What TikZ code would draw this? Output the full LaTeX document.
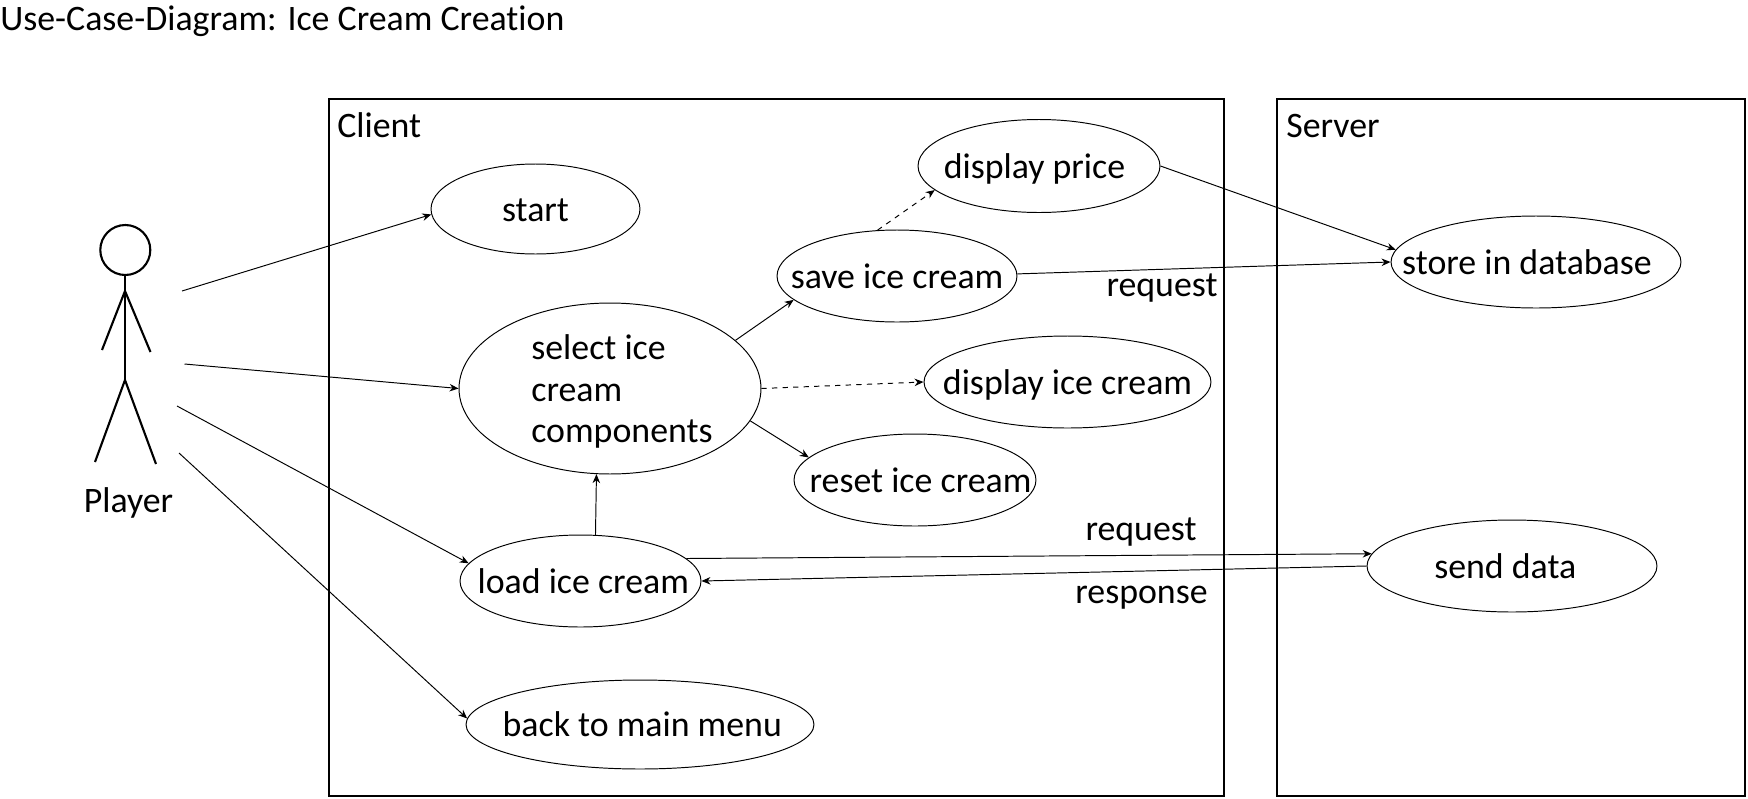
\documentclass[tikz,border=0pt]{standalone}
\usepackage{fontspec}
\setmainfont[Ligatures=NoCommon]{Carlito}
\usetikzlibrary{arrows.meta, positioning, shapes}
\tikzset{
  usecase/.style={draw, ellipse, line width=0.55pt, inner sep=-22pt, text height=0.64cm, text depth=0.16cm},
  frame/.style={draw, line width=1.3pt},
  limb/.style={line width=1.2pt},
  flow/.style={line width=0.55pt, -{Stealth[length=1.8mm,width=1.5mm]}},
  flowdash/.style={flow, dashed},
  caption/.style={anchor=base, inner sep=0pt}
}

\begin{document}
\begin{tikzpicture}[x=0.02cm, y=-0.02cm, every node/.append style={font=\fontsize{20.4}{24}\selectfont}]
\useasboundingbox (0,0) rectangle (1748,798);

% Title
\node[caption, anchor=base west] (title) at (0,30) {Use-Case-Diagram: Ice Cream Creation};

% Boxes
\draw[frame] (329,99) rectangle (1224,796);
\draw[frame] (1277,99) rectangle (1745,796);
\node[caption, anchor=base west] (client) at (337,137) {Client};
\node[caption, anchor=base west] (server) at (1286,137) {Server};

% Player
\draw[limb] (125.3,250) circle (25);
\draw[limb] (125,275) -- (125,380);
\draw[limb] (125,291) -- (102,350);
\draw[limb] (125,291) -- (150.5,352);
\draw[limb] (125,380) -- (95,462);
\draw[limb] (125,380) -- (156,464);
\node[caption] (player) at (128.5,512) {Player};
\coordinate (p1) at (182,291);
\coordinate (p2) at (184.5,364);
\coordinate (p3) at (177,406);
\coordinate (p4) at (179,453);

% Client use cases
\node[usecase, minimum width=4.18cm, minimum height=1.8cm] (start) at (535.5,209) {start};
\node[usecase, minimum width=6.04cm, minimum height=3.42cm, align=left, text height=2.38cm, text depth=0.2cm, font=\fontsize{20.4}{23.9}\selectfont] (select) at (610,388.5) {\hspace*{0.48cm}select ice\\\hspace*{0.48cm}cream\\\hspace*{0.48cm}components};
\node[usecase, minimum width=4.8cm, minimum height=1.84cm] (save) at (897,276) {save ice cream};
\node[usecase, minimum width=4.84cm, minimum height=1.86cm] (price) at (1039,166) {display price\hspace*{0.18cm}};
\node[usecase, minimum width=5.74cm, minimum height=1.84cm] (display) at (1067.5,382) {display ice cream};
\node[usecase, minimum width=4.84cm, minimum height=1.84cm] (reset) at (915,480) {\hspace*{0.22cm}reset ice cream};
\node[usecase, minimum width=4.82cm, minimum height=1.84cm] (load) at (580.5,581) {\hspace*{0.11cm}load ice cream};
\node[usecase, minimum width=6.96cm, minimum height=1.78cm] (back) at (640,724.5) {\hspace*{0.09cm}back to main menu};

% Server use cases
\node[usecase, minimum width=5.8cm, minimum height=1.84cm] (store) at (1536,262) {store in database\hspace*{0.36cm}};
\node[usecase, minimum width=5.8cm, minimum height=1.84cm] (send) at (1512,566) {send data\hspace*{0.27cm}};

% Connectors
\draw[flow] (p1) -- (start.183.3);
\draw[flow] (p2) -- (select.180);
\draw[flow] (p3) -- (load.171.5);
\draw[flow] (p4) -- (back.178.2);
\draw[flow] (select.21.7) -- (save.193.5);
\draw[flowdash] (select.0) -- (display.180);
\draw[flow] (select.-13.8) -- (reset.168.3);
\draw[flow] (load.72.5) -- (select.261.4);
\draw[flowdash] (save.113.5) -- (price.193.9);
\draw[flow] (price.0) -- (store.175.2);
\draw[flow] (save.1) -- (store.180);
\draw[flow] (load.12.6) -- (send.175.4);
\draw[flow] (send.180) -- (load.0);

% Labels
\node[caption] (request1) at (1162,296) {request};
\node[caption] (request2) at (1141,540) {request};
\node[caption] (response) at (1141.5,603) {response};
\end{tikzpicture}
\end{document}
